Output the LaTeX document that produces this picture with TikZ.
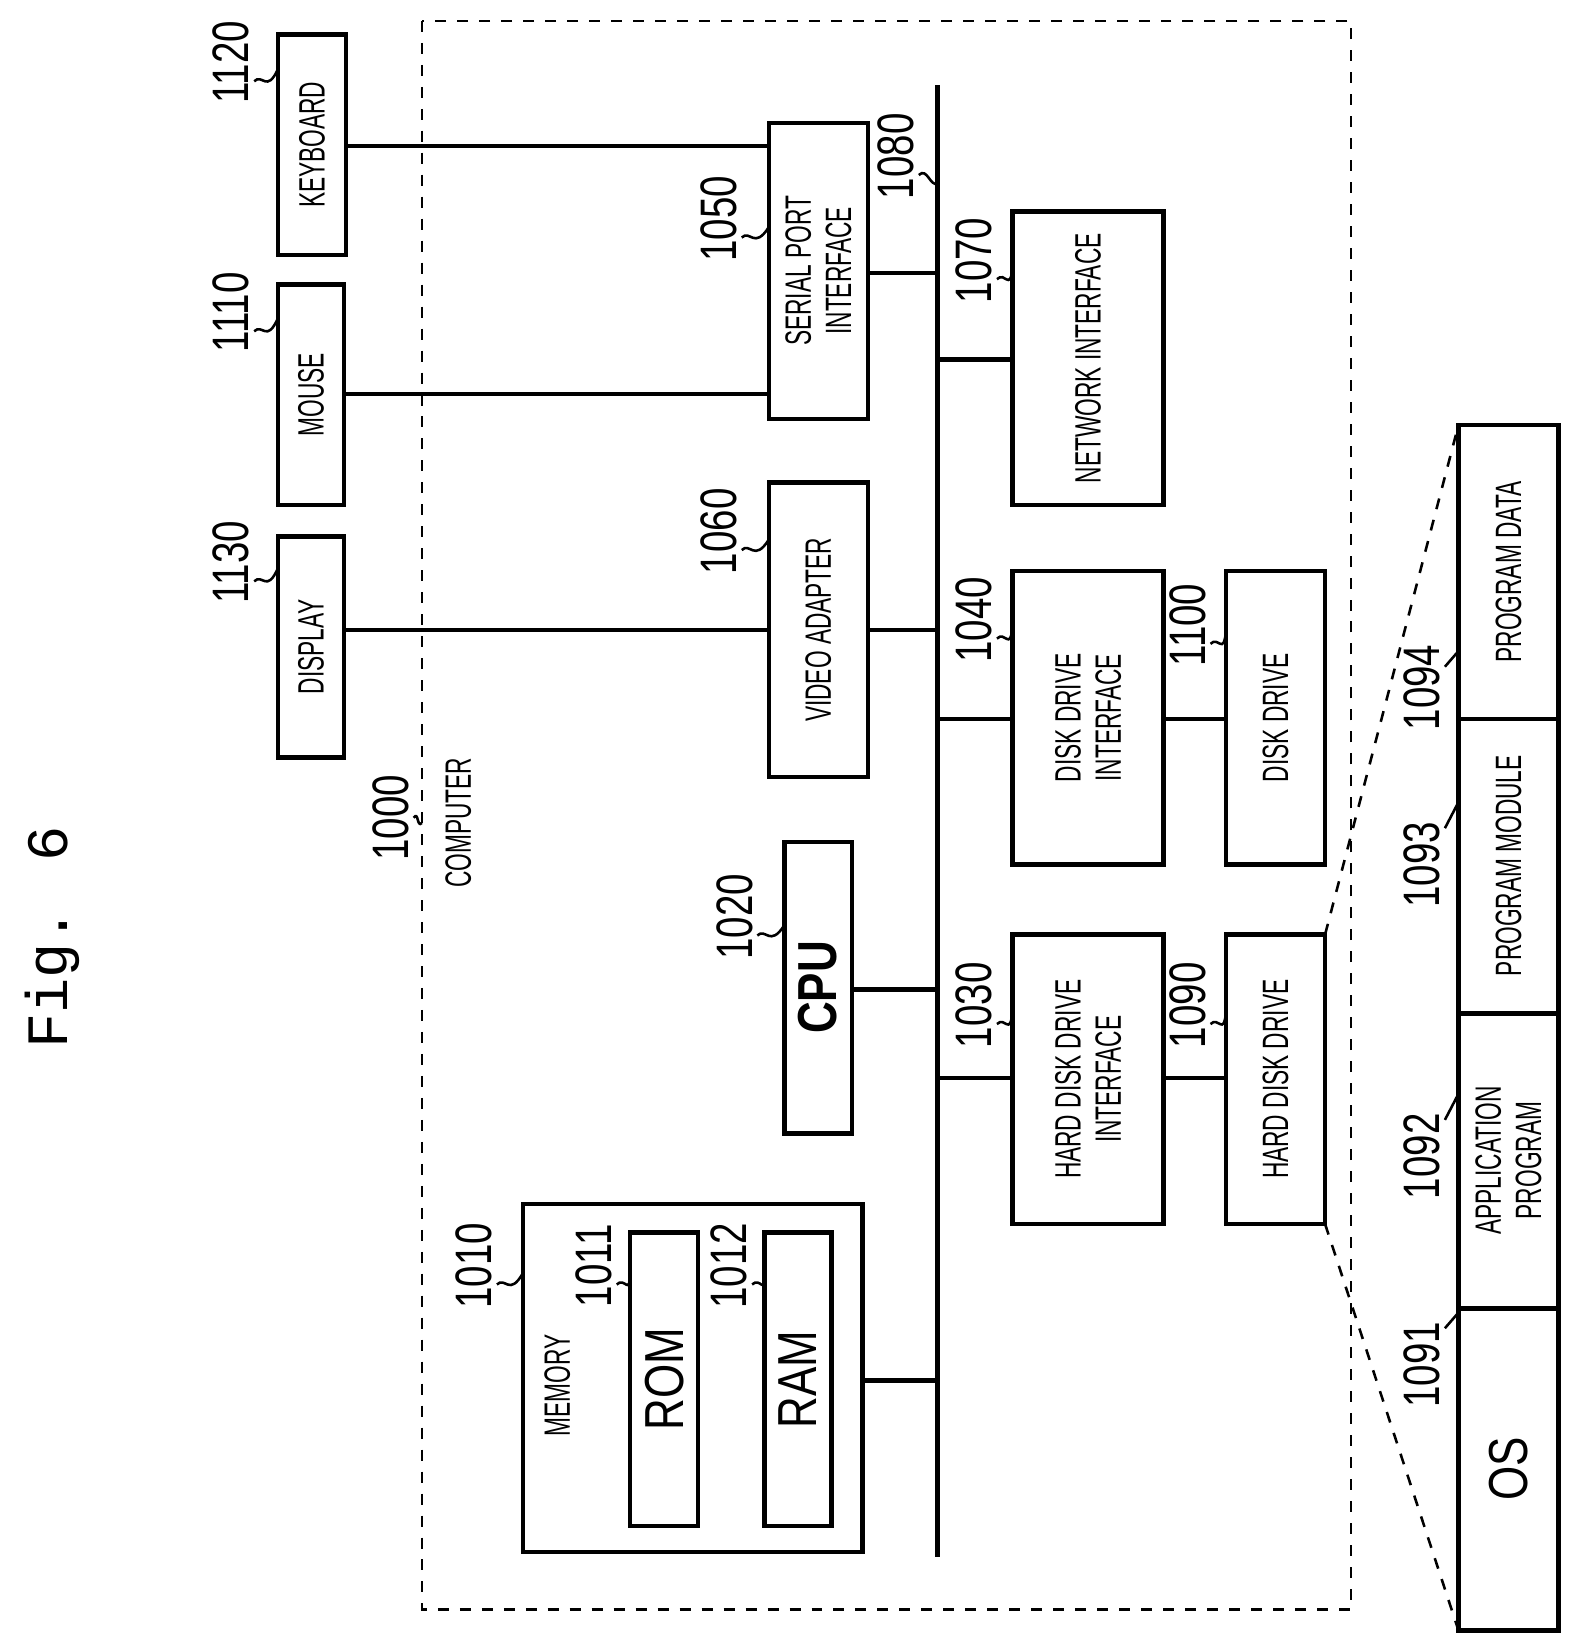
\documentclass[tikz,border=0pt]{standalone}
\usepackage{fontspec}
\setmainfont{Liberation Sans}
\newfontfamily\monof{Liberation Mono}
\begin{document}
\begin{tikzpicture}[x=0.01cm,y=-0.01cm,
  bx/.style={draw,line width=1.2pt,inner sep=0pt},
  ln/.style={line width=1.2pt},
  num/.style={rotate=90,font=\fontsize{14}{14}\selectfont,inner sep=0pt},
  txt/.style={rotate=90,align=center,font=\fontsize{10}{11}\selectfont,inner sep=0pt},
  lead/.style={line width=0.7pt}]
\useasboundingbox (0,0) rectangle (1530,1581);
\newcommand{\cond}[1]{\scalebox{0.62}[1]{#1}}
\newcommand{\boxat}[6]{\draw[bx] (#2,#3) rectangle (#4,#5); \node[txt] (#1) at ({(#2+#4)/2},{(#3+#5)/2}) {#6};}
\newcommand{\lbl}[5]{\node[num] (#1) at (#2,#3) {\scalebox{0.75}[1]{#1}};
  \draw[lead] (#2+22,#3+18) .. controls (#2+30,#3+10) and (#2+34,#3+30) .. (#4,#5);}
\node[rotate=90,font=\monof\fontsize{16}{16}\selectfont] (fig) at (50,900) {Fig. 6};
\draw[dashed,line width=0.7pt] (405,20) rectangle (1297,1545);
\node[num] (n1000) at (375,785) {\scalebox{0.75}[1]{1000}};
\draw[lead] (397,785) .. controls (402,778) and (400,795) .. (405,790);
\node[txt] (comp) at (440,790) {\cond{COMPUTER}};
% external devices
\boxat{kb}{267}{33}{332}{245}{\cond{KEYBOARD}}
\boxat{ms}{267}{273}{330}{485}{\cond{MOUSE}}
\boxat{dp}{267}{515}{330}{727}{\cond{DISPLAY}}
\lbl{1120}{222}{60}{267}{66}
\lbl{1110}{222}{300}{267}{305}
\lbl{1130}{222}{540}{267}{545}
% interfaces
\boxat{spi}{738}{118}{833}{402}{\cond{SERIAL PORT}\\\cond{INTERFACE}}
\boxat{va}{738}{463}{833}{746}{\cond{VIDEO ADAPTER}}
\draw[bx] (753,808) rectangle (818,1088);
\node[rotate=90,font=\bfseries\fontsize{15}{15}\selectfont] (cpu) at (785,948) {\scalebox{0.8}[1]{CPU}};
\lbl{1050}{690}{210}{738}{218}
\lbl{1060}{690}{510}{738}{518}
\lbl{1020}{705}{880}{753}{888}
% memory
\draw[bx] (502,1156) rectangle (828,1490);
\node[txt] (mem) at (535,1330) {\cond{MEMORY}};
\draw[bx] (605,1183) rectangle (670,1465);
\node[rotate=90,font=\fontsize{15}{15}\selectfont] (rom) at (638,1324) {\scalebox{0.8}[1]{ROM}};
\draw[bx] (734,1183) rectangle (798,1465);
\node[rotate=90,font=\fontsize{15}{15}\selectfont] (ram) at (766,1324) {\scalebox{0.8}[1]{RAM}};
\lbl{1010}{455}{1215}{502}{1222}
\lbl{1011}{570}{1215}{605}{1222}
\lbl{1012}{700}{1215}{734}{1222}
% bus
\coordinate (bt) at (900,82); \coordinate (bb) at (900,1495);
\draw[ln] (bt) -- (bb);
\node[num] (l1080) at (860,150) {\scalebox{0.75}[1]{1080}};
\draw[lead] (882,168) .. controls (890,160) and (893,180) .. (900,176);
% right side
\boxat{ni}{972}{203}{1117}{485}{\cond{NETWORK INTERFACE}}
\boxat{ddi}{972}{548}{1117}{830}{\cond{DISK DRIVE}\\\cond{INTERFACE}}
\boxat{hddi}{972}{897}{1117}{1175}{\cond{HARD DISK DRIVE}\\\cond{INTERFACE}}
\boxat{dd}{1177}{548}{1272}{830}{\cond{DISK DRIVE}}
\boxat{hdd}{1177}{897}{1272}{1175}{\cond{HARD DISK DRIVE}}
\lbl{1070}{935}{250}{972}{258}
\lbl{1040}{935}{595}{972}{603}
\lbl{1030}{935}{965}{972}{972}
\lbl{1100}{1140}{600}{1177}{606}
\lbl{1090}{1140}{965}{1177}{972}
% stack
\draw[bx] (1400,408) rectangle (1496,1565);
\draw[ln] (1400,690) -- (1496,690) (1400,973) -- (1496,973) (1400,1256) -- (1496,1256);
\node[txt] (pd) at (1448,549) {\cond{PROGRAM DATA}};
\node[txt] (pm) at (1448,831) {\cond{PROGRAM MODULE}};
\node[txt] (ap) at (1448,1114) {\cond{APPLICATION}\\\cond{PROGRAM}};
\node[rotate=90,font=\fontsize{15}{15}\selectfont] (os) at (1448,1410) {\scalebox{0.8}[1]{OS}};
\node[num] (l1094) at (1365,660) {\scalebox{0.75}[1]{1094}};
\node[num] (l1093) at (1365,830) {\scalebox{0.75}[1]{1093}};
\node[num] (l1092) at (1365,1110) {\scalebox{0.75}[1]{1092}};
\node[num] (l1091) at (1365,1310) {\scalebox{0.75}[1]{1091}};
\draw[lead] (1387,640) -- (1400,625);
\draw[lead] (1387,795) -- (1400,770);
\draw[lead] (1387,1075) -- (1400,1050);
\draw[lead] (1387,1275) -- (1400,1260);
\draw[dashed,line width=0.7pt] (1272,897) -- (1400,408);
\draw[dashed,line width=0.7pt] (1272,1175) -- (1400,1565);
% connectors
\draw[ln] (332,140) -- (738,140);
\draw[ln] (330,378) -- (738,378);
\draw[ln] (330,605) -- (738,605);
\draw[ln] (833,262) -- (900,262);
\draw[ln] (833,605) -- (900,605);
\draw[ln] (818,950) -- (900,950);
\draw[ln] (828,1325) -- (900,1325);
\draw[ln] (900,345) -- (972,345);
\draw[ln] (900,690) -- (972,690);
\draw[ln] (900,1035) -- (972,1035);
\draw[ln] (1117,690) -- (1177,690);
\draw[ln] (1117,1035) -- (1177,1035);
\end{tikzpicture}
\end{document}
